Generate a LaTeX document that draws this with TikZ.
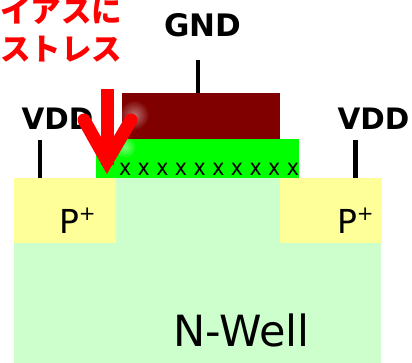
\documentclass[tikz,border=0pt]{standalone}
\usepackage{fontspec}
\setmainfont{DejaVu Sans}
\newfontfamily\cjk{Noto Sans CJK JP}
\usetikzlibrary{positioning, fadings}
\definecolor{wellgreen}{HTML}{CCFFCC}
\definecolor{pyellow}{HTML}{FFFF99}
\definecolor{gatered}{HTML}{800000}
\newcommand{\sized}[1]{\fontsize{#1}{#1}\selectfont}
\newcommand{\pplus}{P\raisebox{.4em}{\sized{20}+}}
\tikzfading[name=glowfade, inner color=transparent!55, outer color=transparent!100]

\begin{document}
\begin{tikzpicture}[
              x=1pt, y=-1pt,
              region/.style={inner sep=0pt, outer sep=0pt, anchor=north west},
              wire/.style={line width=4.5pt, black},
              rail/.style={font=\sized{29.5}\bfseries},
              dopant/.style={font=\sized{33}, anchor=base west},
              stress/.style={red, line width=13pt}
            ]
            \path[use as bounding box, clip] (0,0) rectangle (412,363);

            % Well and diffusions
            \node[region, fill=wellgreen, minimum width=367pt, minimum height=185pt] (well) at (14,178) {};
            \node[region, fill=pyellow, minimum width=102pt, minimum height=65pt] (pleft) at (14,178) {};
            \node[region, fill=pyellow, minimum width=102pt, minimum height=65pt] (pright) at (280,178) {};
            \node[dopant] (pleftlabel) at (55.5,234) {\pplus};
            \node[dopant] (prightlabel) at (333.5,234) {\pplus};
            \node[font=\sized{43}] (welllabel) at (241.5,330) {N-Well};

            % Gate stack
            \node[region, fill=green, minimum width=203pt, minimum height=39pt] (oxide) at (96,139) {};
            \node[region, fill=gatered, minimum width=158pt, minimum height=46pt] (gate) at (122,93) {};
            \node[font=\sized{20.5}, inner sep=0pt, yscale=1.1] (traps) at (209,169) {x x x x x x x x x x};

            % Terminals
            \node[rail, font=\sized{31}\bfseries] (gnd) at (203,25) {GND};
            \node[rail] (vddleft) at (57.5,119) {VDD};
            \node[rail] (vddright) at (373.5,119) {VDD};
            \coordinate (gndend) at (198,60);
            \coordinate (vddleftend) at (40,140);
            \coordinate (vddrightend) at (355.5,140);
            \draw[wire] (gndend) -- (gndend |- gate.north);
            \draw[wire] (vddleftend) -- (vddleftend |- pleft.north);
            \draw[wire] (vddrightend) -- (vddrightend |- pright.north);

            % Caption
            \node[red, font=\cjk\sized{30.5}\bfseries, align=right, anchor=east, inner sep=0pt] (caption) at (122.5,30) {イアスに\\[7.5pt]ストレス};

            % Stress arrow
            \fill[white, path fading=glowfade] (134,115) circle (15);
            \fill[white, path fading=glowfade] (125,147) circle (11);
            \coordinate (shafttop) at (107,89);
            \coordinate (shaftend) at (107,165);
            \coordinate (barbleft) at (84,120);
            \coordinate (barbtip) at (107,161);
            \coordinate (barbright) at (131,120);
            \draw[stress] (shafttop) -- (shaftend);
            \draw[stress, line cap=round] (barbleft) -- (barbtip) -- (barbright);
            \end{tikzpicture}
\end{document}
